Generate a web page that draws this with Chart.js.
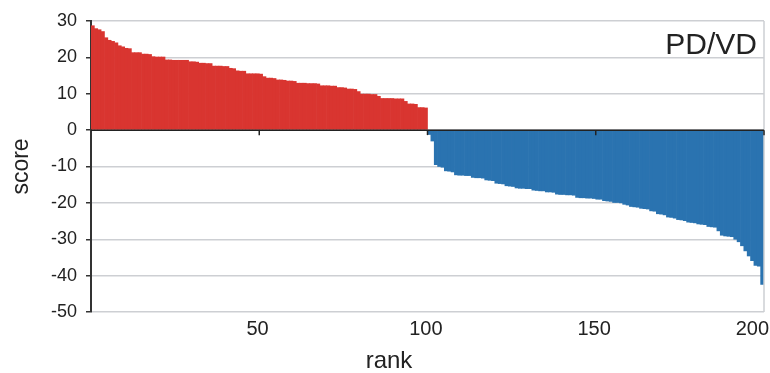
<!DOCTYPE html>
<html>
<head>
<meta charset="utf-8">
<script src="https://cdn.jsdelivr.net/npm/chart.js@4/dist/chart.umd.min.js"></script>
<style>
  html, body { margin: 0; padding: 0; background: #fff; }
  #wrap { width: 770px; height: 373px; }
</style>
</head>
<body>
<div id="wrap"><canvas id="scoreChart" width="770" height="373"></canvas></div>
<script>
// Ranks 1..200 (categories)
const ranks = Array.from({ length: 200 }, (_, i) => i + 1);
const rankTicks = [50, 100, 150, 200];
const yTicks = [30, 20, 10, 0, -10, -20, -30, -40, -50];

// Positive scores, ranks 1-100
const redScores = [
  28.7, 27.9, 27.6, 27.1, 25.4, 24.7, 24.4, 24.0, 23.2, 22.9,
  22.5, 22.4, 21.3, 21.3, 21.3, 20.9, 20.9, 20.8, 20.2, 20.1,
  20.1, 20.1, 19.3, 19.3, 19.2, 19.2, 19.2, 19.2, 19.2, 18.8,
  18.8, 18.7, 18.4, 18.4, 18.3, 18.3, 17.6, 17.6, 17.6, 17.5,
  17.5, 17.0, 16.9, 16.3, 16.2, 16.2, 15.5, 15.5, 15.5, 15.5,
  15.4, 14.7, 14.3, 14.3, 14.2, 13.8, 13.8, 13.7, 13.5, 13.5,
  13.4, 12.9, 12.9, 12.9, 12.8, 12.8, 12.8, 12.7, 12.2, 12.2,
  12.2, 12.1, 12.1, 11.7, 11.7, 11.6, 11.3, 11.3, 11.2, 10.6,
  9.9, 9.9, 9.9, 9.8, 9.8, 9.3, 8.7, 8.7, 8.7, 8.7,
  8.6, 8.6, 8.6, 7.9, 7.2, 7.2, 7.1, 6.2, 6.2, 6.1
];

// Negative scores, ranks 101-200
const blueScores = [
  -1.2, -3.0, -9.5, -10.0, -10.2, -11.2, -11.3, -11.5, -12.3, -12.4,
  -12.4, -12.5, -12.5, -13.0, -13.1, -13.1, -13.2, -13.7, -13.8, -13.9,
  -14.6, -14.7, -14.8, -15.3, -15.4, -15.5, -15.9, -16.0, -16.0, -16.1,
  -16.1, -16.5, -16.6, -16.7, -16.7, -17.0, -17.0, -17.1, -17.6, -17.7,
  -17.7, -17.8, -17.8, -17.9, -18.5, -18.6, -18.6, -18.7, -18.7, -18.8,
  -19.0, -19.0, -19.4, -19.5, -19.6, -19.9, -19.9, -20.0, -20.4, -20.6,
  -21.0, -21.1, -21.2, -21.5, -21.6, -21.7, -22.2, -22.3, -23.0, -23.1,
  -23.3, -23.9, -24.0, -24.2, -24.6, -24.7, -24.9, -25.3, -25.4, -25.5,
  -25.8, -25.9, -26.0, -26.5, -26.6, -26.7, -27.7, -28.9, -29.1, -29.2,
  -29.3, -30.0, -30.7, -31.8, -33.2, -34.6, -35.9, -37.2, -37.4, -42.4
];

const emptyHalf = new Array(100).fill(null);

// Extra drawing: zero-line ticks, right border, rank title and PD/VD label
const decorations = {
  id: 'decorations',
  afterDatasetsDraw(chart) {
    const { ctx, chartArea, scales } = chart;
    const x = scales.x, y = scales.y;
    const y0 = y.getPixelForValue(0);
    const half = (x.getPixelForValue(1) - x.getPixelForValue(0)) / 2;

    ctx.save();
    // right border
    ctx.strokeStyle = '#cdcfd3';
    ctx.lineWidth = 1.5;
    ctx.beginPath();
    ctx.moveTo(chartArea.right, chartArea.top);
    ctx.lineTo(chartArea.right, chartArea.bottom);
    ctx.stroke();

    // zero line
    ctx.strokeStyle = '#222';
    ctx.lineWidth = 1.5;
    ctx.beginPath();
    ctx.moveTo(chartArea.left, y0);
    ctx.lineTo(chartArea.right, y0);
    ctx.stroke();

    // tick marks on the zero line
    rankTicks.forEach(r => {
      const px = x.getPixelForValue(r - 1) + half;
      ctx.beginPath();
      ctx.moveTo(px, y0);
      ctx.lineTo(px, y0 + 5);
      ctx.stroke();
    });

    // series label
    ctx.fillStyle = '#222';
    ctx.font = '30px "Liberation Sans", Arial, sans-serif';
    ctx.textAlign = 'right';
    ctx.textBaseline = 'alphabetic';
    ctx.fillText('PD/VD', 757, 54);

    // x axis title
    ctx.font = '24px "Liberation Sans", Arial, sans-serif';
    ctx.textAlign = 'center';
    ctx.fillText('rank', 389, 368);
    ctx.restore();
  }
};

new Chart(document.getElementById('scoreChart'), {
  type: 'bar',
  data: {
    labels: ranks,
    datasets: [
      {
        label: 'positive',
        data: redScores.concat(emptyHalf),
        backgroundColor: '#d93530',
        borderWidth: 0
      },
      {
        label: 'negative',
        data: emptyHalf.concat(blueScores),
        backgroundColor: '#2a73b0',
        borderWidth: 0
      }
    ]
  },
  options: {
    responsive: false,
    animation: false,
    devicePixelRatio: 1,
    layout: { padding: { top: 21, right: 6, bottom: 0, left: 0 } },
    datasets: {
      bar: { grouped: false, barPercentage: 1.0, categoryPercentage: 1.0 }
    },
    plugins: {
      legend: { display: false },
      tooltip: { enabled: false }
    },
    scales: {
      x: {
        grid: { display: false, drawTicks: false },
        border: { display: false },
        ticks: {
          autoSkip: false,
          maxRotation: 0,
          padding: 5,
          color: '#222',
          font: { family: '"Liberation Sans", Arial, sans-serif', size: 20 },
          callback: function (value) {
            const r = ranks[value];
            if (!rankTicks.includes(r)) return '';
            // last label sits a little inside the plot edge
            return r === 200 ? '200\u2002\u2002' : String(r);
          }
        },
        afterFit: scale => {
          scale.height = 61;
          scale.paddingLeft = 0;
          scale.paddingRight = 0;
        }
      },
      y: {
        min: -50,
        max: 30,
        afterBuildTicks: scale => { scale.ticks = yTicks.map(v => ({ value: v })); },
        grid: {
          color: '#cdcfd3',
          lineWidth: 1.5,
          tickColor: '#333',
          tickLength: 5
        },
        border: { display: true, color: '#333', width: 2 },
        ticks: {
          padding: 9,
          color: '#222',
          font: { family: '"Liberation Sans", Arial, sans-serif', size: 18 }
        },
        title: {
          display: true,
          text: 'score',
          color: '#222',
          padding: { top: 8, bottom: 0 },
          font: { family: '"Liberation Sans", Arial, sans-serif', size: 23 }
        },
        afterFit: scale => {
          scale.width = 91;
          scale.paddingTop = 0;
          scale.paddingBottom = 0;
        }
      }
    }
  },
  plugins: [decorations]
});
</script>
</body>
</html>
